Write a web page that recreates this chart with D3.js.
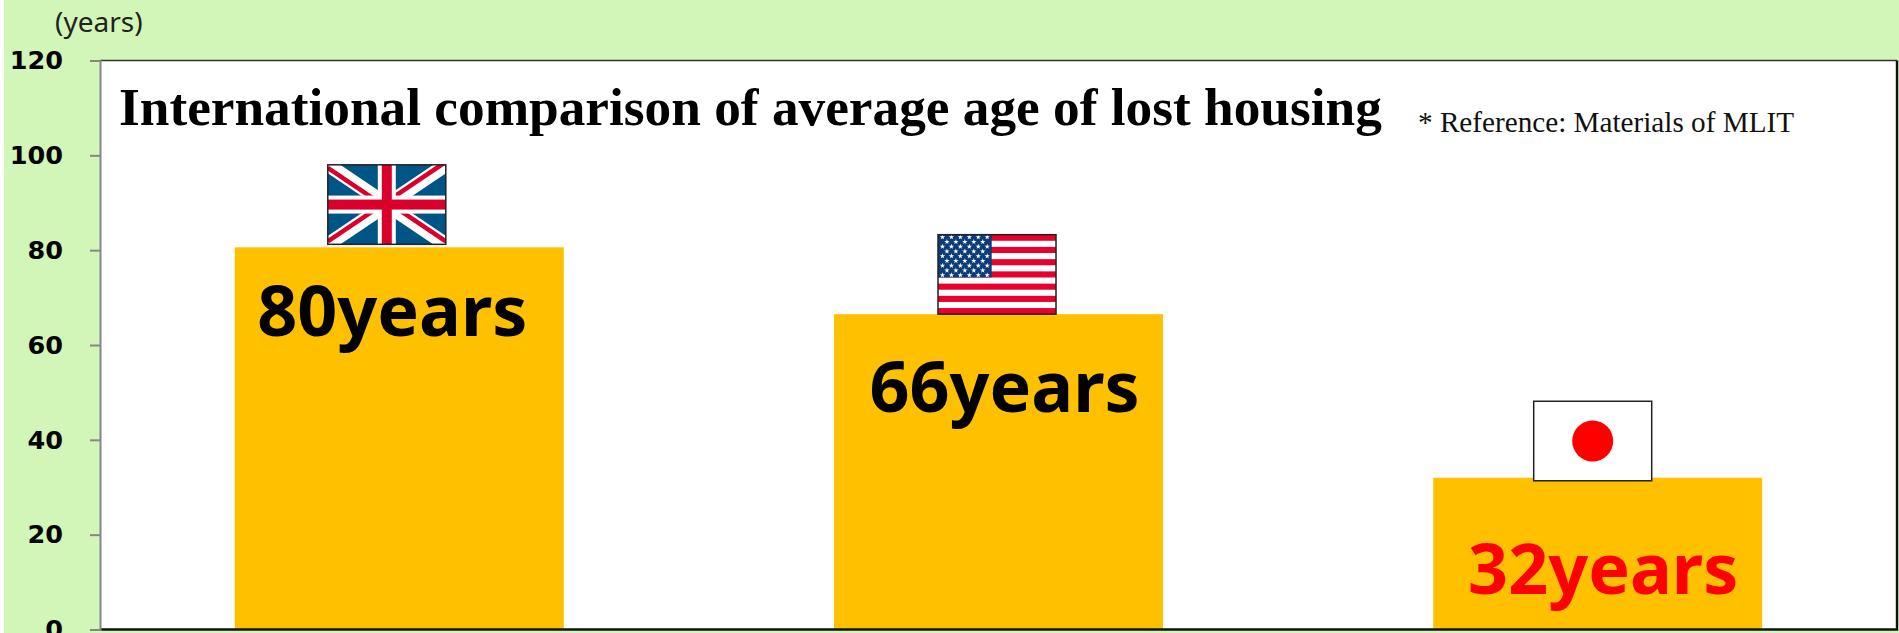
<!DOCTYPE html>
<html>
<head>
<meta charset="utf-8">
<script src="https://cdn.jsdelivr.net/npm/d3@7"></script>
<style>
  html, body { margin: 0; padding: 0; background: #fff; overflow: hidden; }
  svg { display: block; }
</style>
</head>
<body>
<div id="container"></div>
<script>
/* CONSTANTS AND GLOBALS */
const width = 1899,
  height = 633,
  margin = {top: 60.5, bottom: 3.5, left: 100, right: 2};

// data
const countries = ["UK", "USA", "Japan"];
const lifespans = [80.6, 66.5, 32];
const valueLabels = ["80years", "66years", "32years"];
const yTicks = [0, 20, 40, 60, 80, 100, 120];
const title = "International comparison of average age of lost housing";
const note = "* Reference: Materials of MLIT";
const unit = "(years)";

const green = "#d2f6b8", gold = "#ffc000";
const flagW = 118, flagH = 79.5;

const svg = d3.select("#container").append("svg")
  .attr("width", width)
  .attr("height", height);

// clip for the flag insides so the diagonals stay in the flag
svg.append("clipPath").attr("id", "flagClip")
  .append("rect").attr("width", flagW).attr("height", flagH);

// background
svg.append("rect").attr("x", 4).attr("width", width - 4).attr("height", height).attr("fill", green);

// + SCALES
const xScale = d3.scaleBand()
  .domain(countries)
  .range([margin.left, width - margin.right])
  .paddingInner(0.451)
  .paddingOuter(0.225);

const yScale = d3.scaleLinear()
  .domain([0, 120])
  .range([height - margin.bottom, margin.top]);

// plot area
svg.append("rect")
  .attr("x", margin.left).attr("y", margin.top)
  .attr("width", width - margin.left - margin.right)
  .attr("height", height - margin.top - margin.bottom)
  .attr("fill", "#fff");

// bars
svg.selectAll("rect.bar")
  .data(countries)
  .join("rect")
  .attr("class", "bar")
  .attr("x", d => xScale(d))
  .attr("y", (d, i) => yScale(lifespans[i]))
  .attr("width", xScale.bandwidth())
  .attr("height", (d, i) => yScale(0) - yScale(lifespans[i]))
  .attr("fill", gold);

// frame: dark top, bottom and right, the y axis goes on top in gray
svg.append("path")
  .attr("d", `M${margin.left},${margin.top}H${width - margin.right}`)
  .attr("stroke", "#333")
  .attr("stroke-width", 1.6);
svg.append("path")
  .attr("d", `M${width - margin.right},${margin.top}V${yScale(0)}H${margin.left}`)
  .attr("fill", "none")
  .attr("stroke", "#111")
  .attr("stroke-width", 2.4);

// + AXES
const yAxis = d3.axisLeft(yScale).tickValues(yTicks).tickSize(10).tickPadding(27);
const yAxisGroup = svg.append("g")
  .attr("transform", `translate(${margin.left},0)`)
  .call(yAxis);
yAxisGroup.select(".domain").attr("stroke", "#868686").attr("stroke-width", 2);
yAxisGroup.selectAll(".tick line").attr("stroke", "#868686").attr("stroke-width", 2);
yAxisGroup.selectAll(".tick text")
  .attr("fill", "#000")
  .style("font-family", "'DejaVu Sans'")
  .style("font-weight", "bold")
  .style("font-size", "25.5px");

// texts
svg.append("text").text(unit)
  .attr("x", 55).attr("y", 32)
  .attr("fill", "#222")
  .style("font-family", "'Noto Sans'")
  .style("font-size", "28px");

svg.append("text").text(title)
  .attr("x", 119).attr("y", 125)
  .style("font-family", "'Liberation Serif'")
  .style("font-weight", "bold")
  .style("font-size", "53.3px");

svg.append("text").text(note)
  .attr("x", 1418).attr("y", 132)
  .attr("fill", "#111")
  .style("font-family", "'Liberation Serif'")
  .style("font-size", "29.2px");

// value labels
const labelOffset = [-7, 6, 5.5];       // sideways shift from the bar centre
const labelDrop = [88.5, 98, 116];      // baseline below the bar top
svg.selectAll("text.value")
  .data(countries)
  .join("text")
  .attr("class", "value")
  .attr("x", (d, i) => xScale(d) + xScale.bandwidth() / 2 + labelOffset[i])
  .attr("y", (d, i) => yScale(lifespans[i]) + labelDrop[i])
  .attr("text-anchor", "middle")
  .attr("fill", (d, i) => i === 2 ? "#ff0000" : "#000")
  .style("font-family", "'Noto Sans'")
  .style("font-weight", "bold")
  .style("font-size", "70px")
  .text((d, i) => valueLabels[i]);

// FLAGS - each sits just above its bar
const flagShift = [-12.5, -1.5, -5];
const flagGap = [3, 0, -3];
const flagGroup = svg.selectAll("g.flag")
  .data(countries)
  .join("g")
  .attr("class", "flag")
  .attr("transform", (d, i) => {
    const left = xScale(d) + xScale.bandwidth() / 2 - flagW / 2 + flagShift[i];
    return `translate(${left},${yScale(lifespans[i]) - flagGap[i] - flagH})`;
  });

function drawUK(g) {
  const cx = flagW / 2, cy = flagH / 2;
  g = g.append("g").attr("clip-path", "url(#flagClip)");
  g.append("rect").attr("width", flagW).attr("height", flagH).attr("fill", "#005587");
  g.append("path")
    .attr("d", `M0,0L${flagW},${flagH}M${flagW},0L0,${flagH}`)
    .attr("stroke", "#fff").attr("stroke-width", 14).attr("fill", "none");
  // red diagonals sit off centre inside the white, one arm at a time
  const arms = [[0, 0, 3], [flagW, flagH, -3], [flagW, 0, -3], [0, flagH, -3]];
  g.selectAll("path.arm")
    .data(arms)
    .join("path")
    .attr("class", "arm")
    .attr("d", d => `M${d[0]},${d[1] + d[2]}L${cx},${cy + d[2]}`)
    .attr("stroke", "#d9002b").attr("stroke-width", 4.5).attr("fill", "none");
  g.append("rect").attr("x", cx - 9).attr("width", 18).attr("height", flagH).attr("fill", "#fff");
  g.append("rect").attr("y", cy - 9).attr("width", flagW).attr("height", 18).attr("fill", "#fff");
  g.append("rect").attr("x", cx - 5).attr("width", 10).attr("height", flagH).attr("fill", "#d9002b");
  g.append("rect").attr("y", cy - 5).attr("width", flagW).attr("height", 10).attr("fill", "#d9002b");
}

function drawUS(g) {
  const stripe = d3.scaleBand().domain(d3.range(13)).range([0, flagH]);
  g.append("rect").attr("width", flagW).attr("height", flagH).attr("fill", "#fff");
  g.selectAll("rect.stripe")
    .data(d3.range(0, 13, 2))
    .join("rect")
    .attr("class", "stripe")
    .attr("y", d => stripe(d))
    .attr("width", flagW)
    .attr("height", stripe.bandwidth())
    .attr("fill", "#e8002f");
  const cantonW = flagW * 0.455, cantonH = stripe(7);
  g.append("rect").attr("width", cantonW).attr("height", cantonH).attr("fill", "#0b3c78");
  const star = d3.symbol().type(d3.symbolStar).size(9);
  for (let row = 0; row < 9; row++) {
    const n = row % 2 ? 5 : 6;
    for (let c = 0; c < n; c++) {
      g.append("path").attr("d", star)
        .attr("fill", "#fff")
        .attr("transform", `translate(${cantonW * (c + (row % 2 ? 1 : 0.5)) / 6},${cantonH * (row + 0.5) / 9})`);
    }
  }
}

function drawJapan(g) {
  g.append("rect").attr("width", flagW).attr("height", flagH).attr("fill", "#fff");
  g.append("circle").attr("cx", flagW / 2).attr("cy", flagH / 2)
    .attr("r", 20.5).attr("fill", "#ff0000");
}

flagGroup.each(function(d, i) {
  const g = d3.select(this);
  [drawUK, drawUS, drawJapan][i](g);
  g.append("rect").attr("width", flagW).attr("height", flagH)
    .attr("fill", "none").attr("stroke", "#222").attr("stroke-width", 1.5);
});
</script>
</body>
</html>
